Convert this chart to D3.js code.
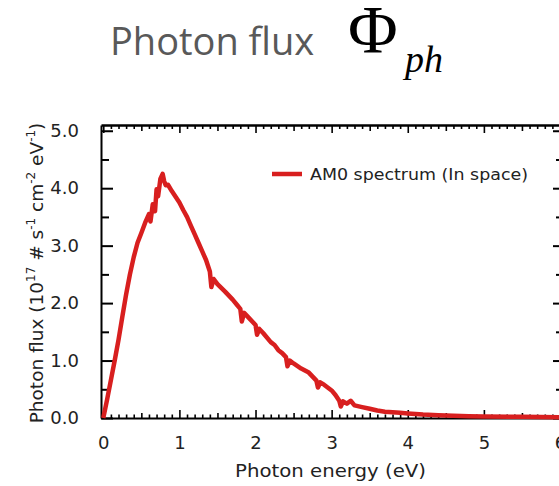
<!DOCTYPE html>
<html><head><meta charset="utf-8">
<script src="https://cdn.jsdelivr.net/npm/d3@7"></script>
<style>body{margin:0;background:#fff;}svg{display:block;}</style>
</head><body>
<svg id="c" width="559" height="486"></svg>
<script>
// ---- data ----
const energy = [0.00,0.05,0.10,0.15,0.20,0.25,0.30,0.35,0.40,0.45,0.50,0.55,0.60,0.62,0.65,0.68,0.70,0.72,0.75,0.78,0.80,0.82,0.85,0.90,0.95,1.00,1.05,1.10,1.15,1.20,1.25,1.30,1.35,1.40,1.42,1.45,1.50,1.60,1.70,1.75,1.80,1.82,1.85,1.90,2.00,2.02,2.05,2.10,2.20,2.25,2.30,2.35,2.40,2.42,2.45,2.50,2.60,2.70,2.75,2.80,2.82,2.85,2.90,3.00,3.05,3.10,3.12,3.15,3.20,3.25,3.30,3.40,3.50,3.60,3.70,3.80,3.90,4.00,4.20,4.40,4.60,4.80,5.00,5.50,6.00];
const flux   = [0.00,0.32,0.66,1.00,1.36,1.76,2.15,2.50,2.80,3.05,3.22,3.40,3.55,3.42,3.72,3.60,3.98,3.86,4.16,4.25,4.12,4.05,4.06,3.95,3.85,3.75,3.62,3.50,3.35,3.20,3.05,2.90,2.75,2.55,2.28,2.42,2.33,2.20,2.06,1.98,1.90,1.68,1.83,1.76,1.62,1.45,1.55,1.48,1.32,1.27,1.18,1.13,1.06,0.90,1.00,0.95,0.86,0.79,0.72,0.65,0.53,0.62,0.58,0.48,0.40,0.30,0.20,0.29,0.25,0.30,0.22,0.19,0.16,0.13,0.11,0.10,0.09,0.08,0.06,0.05,0.04,0.03,0.025,0.02,0.015];
const xTickValues = [0,1,2,3,4,5,6];
const xTickLabels = ["0","1","2","3","4","5","6"];
const yTickValues = [0,1,2,3,4,5];
const yTickLabels = ["0.0","1.0","2.0","3.0","4.0","5.0"];
const seriesName = "AM0 spectrum (In space)";
const xTitle = "Photon energy (eV)";

const svg = d3.select("#c");
const red = "#d81f1f";
const L = 101, R = 560, T = 125, B = 418;
const x = d3.scaleLinear().domain([-0.03, 6]).range([L, R]);
const y = d3.scaleLinear().domain([0, 5.1]).range([B, T]);

// title
const title = svg.append("g");
title.append("text").attr("x",110).attr("y",55)
  .attr("font-family","'Open Sans', sans-serif").attr("font-size",38).attr("fill","#595959")
  .text("Photon flux");
title.append("text").attr("x",348).attr("y",52)
  .attr("font-family","'Liberation Serif', serif").attr("font-size",68).attr("fill","#000")
  .text("\u03A6");
title.append("text").attr("x",405).attr("y",72)
  .attr("font-family","'Liberation Serif', serif").attr("font-style","italic").attr("font-size",38).attr("fill","#000")
  .text("ph");

// minor tick sets
const minorX = d3.range(0, 60.5, 1).map(d => d/10).filter(d => Math.abs(d*2 - Math.round(d*2)) > 1e-6);
const halfX = d3.range(0.5, 6, 1);
const halfY = d3.range(0.5, 5.01, 1);

function styleAxis(g){
  g.selectAll("path").attr("stroke","#000").attr("stroke-width",2);
  g.selectAll("line").attr("stroke","#000").attr("stroke-width",1.6);
  g.selectAll("text").attr("font-family","'DejaVu Sans', sans-serif").attr("font-size",18).attr("fill","#222");
}
function plain(g, w){ g.select("path").remove(); g.selectAll("line").attr("stroke","#000").attr("stroke-width",w); }

// bottom axis
const gb = svg.append("g").attr("transform",`translate(0,${B})`);
gb.call(d3.axisBottom(x).tickValues(xTickValues).tickSizeInner(-8).tickSizeOuter(0).tickPadding(18)
  .tickFormat((d,i)=>xTickLabels[i]));
styleAxis(gb);
gb.append("g").call(d3.axisBottom(x).tickValues(halfX).tickSize(-5).tickFormat("")).call(g=>plain(g,1.6));
gb.append("g").call(d3.axisBottom(x).tickValues(minorX).tickSize(-3.5).tickFormat("")).call(g=>plain(g,1.6));

// top axis
const gt = svg.append("g").attr("transform",`translate(0,${T})`);
gt.call(d3.axisTop(x).tickValues(xTickValues).tickSizeInner(-8).tickSizeOuter(0).tickFormat(""));
styleAxis(gt);
gt.select("path").attr("stroke-width",2.5);
gt.append("g").call(d3.axisTop(x).tickValues(halfX).tickSize(-6).tickFormat("")).call(g=>plain(g,1.6));
gt.append("g").call(d3.axisTop(x).tickValues(minorX).tickSize(-4).tickFormat("")).call(g=>plain(g,1.6));

// left axis
const gl = svg.append("g").attr("transform",`translate(${L},0)`);
gl.call(d3.axisLeft(y).tickValues(yTickValues).tickSizeInner(-12).tickSizeOuter(0).tickPadding(22)
  .tickFormat((d,i)=>yTickLabels[i]));
styleAxis(gl);
gl.selectAll(".tick line").attr("stroke-width",2);
gl.append("g").call(d3.axisLeft(y).tickValues(halfY).tickSize(-8).tickFormat("")).call(g=>plain(g,2));

// right axis
const gr = svg.append("g").attr("transform",`translate(${R},0)`);
gr.call(d3.axisRight(y).tickValues(yTickValues).tickSizeInner(-7).tickSizeOuter(0).tickFormat(""));
styleAxis(gr);
gr.selectAll(".tick line").attr("stroke-width",2);
gr.append("g").call(d3.axisRight(y).tickValues(halfY).tickSize(-4).tickFormat("")).call(g=>plain(g,2));

// spectrum line
const pts = energy.map((e,i)=>[e, flux[i]]);
svg.append("path").datum(pts)
  .attr("fill","none").attr("stroke",red).attr("stroke-width",4.5).attr("stroke-linejoin","round")
  .attr("d", d3.line().x(d=>x(d[0])).y(d=>y(d[1])));

// legend
svg.append("line").attr("x1",272).attr("x2",302).attr("y1",174).attr("y2",174)
  .attr("stroke",red).attr("stroke-width",4.5);
svg.append("text").attr("x",310).attr("y",180)
  .attr("font-family","'DejaVu Sans', sans-serif").attr("font-size",15).attr("fill","#222")
  .attr("textLength",218).attr("lengthAdjust","spacingAndGlyphs")
  .text(seriesName);

// x title
svg.append("text").attr("x",(L+R)/2).attr("y",477).attr("text-anchor","middle")
  .attr("font-family","'DejaVu Sans', sans-serif").attr("font-size",18).attr("fill","#222")
  .attr("textLength",191).attr("lengthAdjust","spacingAndGlyphs")
  .text(xTitle);

// y title
const yt = svg.append("text").attr("transform","translate(43,273) rotate(-90)").attr("text-anchor","middle")
  .attr("font-family","'DejaVu Sans', sans-serif").attr("font-size",18.5).attr("fill","#222");
yt.append("tspan").text("Photon flux (10");
yt.append("tspan").attr("dy",-8).attr("font-size",12).text("17");
yt.append("tspan").attr("dy",8).text(" # s");
yt.append("tspan").attr("dy",-8).attr("font-size",12).text("-1");
yt.append("tspan").attr("dy",8).text(" cm");
yt.append("tspan").attr("dy",-8).attr("font-size",12).text("-2");
yt.append("tspan").attr("dy",8).text(" eV");
yt.append("tspan").attr("dy",-8).attr("font-size",12).text("-1");
yt.append("tspan").attr("dy",8).text(")");
</script>
</body></html>
